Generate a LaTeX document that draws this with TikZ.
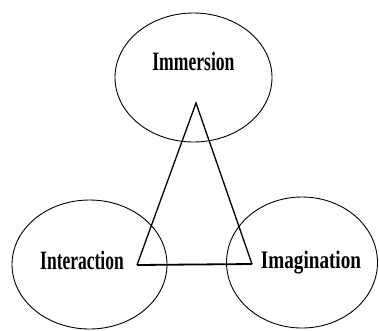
\documentclass[tikz,border=0pt]{standalone}
\usepackage{fontspec}
\usepackage{graphicx}
\setmainfont{Liberation Serif}
\usetikzlibrary{shapes.geometric}
\tikzset{
  circ/.style={draw, ellipse, inner sep=0pt, line width=0.9pt},
  lab/.style={anchor=base, inner sep=0pt, font=\fontsize{26.5}{30}\selectfont},
  tri/.style={line width=1.3pt, line join=miter}
}
\begin{document}
\begin{tikzpicture}[x=1pt,y=-1pt]
\useasboundingbox (0,0) rectangle (379,330);
\node[circ, minimum width=157pt, minimum height=129pt] (eTop) at (193.5,77.5) {};
\node[circ, minimum width=155pt, minimum height=129pt] (eLeft) at (89.5,264.5) {};
\node[circ, minimum width=151pt, minimum height=131pt] (eRight) at (302,262.5) {};
\node[lab] (tTop) at (193.4,70) {\scalebox{0.665}[1]{\bfseries Immersion}};
\node[lab] (tLeft) at (82,269) {\scalebox{0.66}[1]{\bfseries Interaction}};
\node[lab, font=\fontsize{25.2}{30}\selectfont] (tRight) at (311,268) {\scalebox{0.76}[1]{\bfseries Imagination}};
\coordinate (apex) at (196,103);
\coordinate (bl) at (137,265);
\coordinate (br) at (252,264);
\draw[tri] (bl) -- (apex) -- (br);
\draw[line width=1.8pt] (bl) -- (br);
\end{tikzpicture}
\end{document}
